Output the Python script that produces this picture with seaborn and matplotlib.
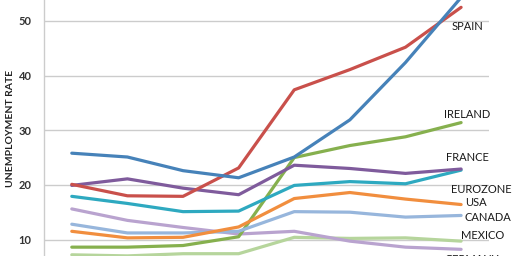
import matplotlib
matplotlib.use("Agg")
import matplotlib.pyplot as plt
import numpy as np
import pandas as pd
import seaborn as sns

years = [2005, 2006, 2007, 2008, 2009, 2010, 2011, 2012]
greece = [25.8, 25.1, 22.6, 21.3, 25.1, 31.9, 42.4, 54.3]
spain = [20.1, 18.0, 17.9, 23.1, 37.4, 41.1, 45.2, 52.5]
france = [19.9, 21.1, 19.4, 18.2, 23.6, 23.0, 22.1, 22.9]
eurozone = [17.9, 16.6, 15.1, 15.2, 19.9, 20.6, 20.2, 22.7]
usa = [11.5, 10.3, 10.4, 12.3, 17.5, 18.6, 17.4, 16.4]
canada = [12.8, 11.2, 11.2, 11.5, 15.1, 15.0, 14.1, 14.4]
germany = [15.6, 13.5, 12.2, 11.0, 11.5, 9.7, 8.6, 8.2]
ireland = [8.6, 8.6, 8.9, 10.5, 25.0, 27.2, 28.8, 31.4]
mexico = [7.2, 7.0, 7.4, 7.4, 10.4, 10.2, 10.3, 9.7]

series = {
    "GREECE": greece, "SPAIN": spain, "FRANCE": france, "EUROZONE": eurozone,
    "USA": usa, "CANADA": canada, "GERMANY": germany, "IRELAND": ireland,
    "MEXICO": mexico,
}
palette = {
    "GREECE": "#4682b9", "SPAIN": "#c9504b", "FRANCE": "#7f5b9c",
    "EUROZONE": "#2ea9c0", "USA": "#f18e3e", "CANADA": "#97b6dc",
    "GERMANY": "#b9a3cf", "IRELAND": "#86b04e", "MEXICO": "#b6d59c",
}
draw_order = ["MEXICO", "GERMANY", "IRELAND", "CANADA", "USA", "EUROZONE",
              "FRANCE", "SPAIN", "GREECE"]

rows = []
for name in draw_order:
    for y, v in zip(years, series[name]):
        rows.append({"country": name, "year": y, "rate": v})
df = pd.DataFrame(rows)

sns.set_theme(style="white")
plt.rcParams["font.family"] = ["Lato", "DejaVu Sans"]

fig = plt.figure(figsize=(5.12, 2.56), dpi=100)
ax = fig.add_axes([0.0859, 0.0, 0.869, 1.0])

sns.lineplot(data=df, x="year", y="rate", hue="country", hue_order=draw_order,
             palette=palette, linewidth=2.3, legend=False, ax=ax,
             estimator=None, sort=False)

ax.set_xlim(2004.5, 2012.5)
ax.set_ylim(6.98, 53.84)
ax.set_yticks([10, 20, 30, 40, 50])
ax.set_xticks([])
ax.yaxis.grid(True, color="#cccccc", linewidth=1.0)
ax.set_axisbelow(True)
for s in ["top", "right", "bottom"]:
    ax.spines[s].set_visible(False)
ax.spines["left"].set_color("#cccccc")
ax.spines["left"].set_linewidth(1.0)
ax.tick_params(axis="y", length=0, pad=9, labelsize=8, labelcolor="#333333")
for lbl in ax.get_yticklabels():
    lbl.set_fontweight("bold")
ax.set_xlabel("")
ax.set_ylabel("UNEMPLOYMENT RATE", fontsize=7.5, fontweight="bold",
              color="#222222")
ax.yaxis.set_label_coords(-0.066, 0.50)

labels = [
    ("SPAIN", 2012.12, 48.96, "center"),
    ("IRELAND", 2012.10, 32.97, "center"),
    ("FRANCE", 2012.12, 25.1, "center"),
    ("EUROZONE", 2012.37, 19.24, "center"),
    ("USA", 2012.27, 16.86, "center"),
    ("CANADA", 2012.49, 13.99, "center"),
    ("MEXICO", 2012.39, 10.77, "center"),
    ("GERMANY", 2011.71, 6.3, "left"),
]
for text, x, y, ha in labels:
    ax.text(x, y, text, ha=ha, va="center", fontsize=8, color="#1a1a1a",
            clip_on=False)

fig.savefig("out.png", dpi=100)
